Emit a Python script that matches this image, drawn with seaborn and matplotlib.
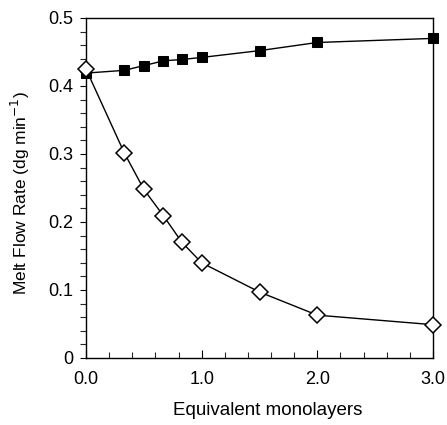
import matplotlib
matplotlib.use("Agg")
import matplotlib.pyplot as plt
import seaborn as sns
import pandas as pd
from matplotlib.ticker import MultipleLocator

sns.set_theme(style="white")
plt.rcParams['font.family'] = ['Liberation Sans', 'DejaVu Sans']

x_vals = [0.0, 0.33, 0.5, 0.67, 0.83, 1.0, 1.5, 2.0, 3.0]
filled_squares = [0.419, 0.423, 0.430, 0.437, 0.439, 0.442, 0.452, 0.464, 0.470]
open_diamonds = [0.425, 0.302, 0.248, 0.209, 0.170, 0.140, 0.097, 0.063, 0.049]
x_ticks = [0.0, 1.0, 2.0, 3.0]
x_tick_labels = ["0.0", "1.0", "2.0", "3.0"]
y_ticks = [0, 0.1, 0.2, 0.3, 0.4, 0.5]
y_tick_labels = ["0", "0.1", "0.2", "0.3", "0.4", "0.5"]

df_sq = pd.DataFrame({"x": x_vals, "y": filled_squares})
df_di = pd.DataFrame({"x": x_vals, "y": open_diamonds})

fig = plt.figure(figsize=(4.47, 4.25), dpi=100)
ax = fig.add_axes([86/447, 67/425, (433-86)/447, (358-18)/425])

sns.lineplot(data=df_sq, x="x", y="y", ax=ax, color="black", linewidth=1.0,
             marker="s", markersize=7.5, markerfacecolor="black",
             markeredgecolor="black", clip_on=False, zorder=3)
sns.lineplot(data=df_di, x="x", y="y", ax=ax, color="black", linewidth=1.0,
             marker="D", markersize=8, markerfacecolor="white",
             markeredgecolor="black", markeredgewidth=1.1, clip_on=False, zorder=4)

ax.set_xlim(0, 3.0)
ax.set_ylim(0, 0.5)
ax.set_xticks(x_ticks)
ax.set_xticklabels(x_tick_labels)
ax.set_yticks(y_ticks)
ax.set_yticklabels(y_tick_labels)
ax.xaxis.set_minor_locator(MultipleLocator(0.2))
ax.yaxis.set_minor_locator(MultipleLocator(0.02))

for s in ax.spines.values():
    s.set_color("black")
    s.set_linewidth(1.0)

ax.tick_params(axis="x", which="major", direction="in", length=6, width=0.8,
               labelsize=13, pad=9, colors="black", bottom=True)
ax.tick_params(axis="x", which="minor", direction="in", length=4, width=0.8, bottom=True)
ax.tick_params(axis="y", which="major", direction="out", length=4, width=0.8,
               labelsize=13, pad=5, colors="black", left=True)
ax.tick_params(axis="y", which="minor", direction="out", length=4, width=0.8, left=True)

ax.set_xlabel("Equivalent monolayers", fontsize=13.5, color="black")
ax.set_ylabel("Melt Flow Rate (dg min$^{-1}$)", fontsize=12.5, color="black")
ax.xaxis.set_label_coords((268-86)/347, -(402-358)/340)
ax.yaxis.set_label_coords((32-86)/347, (358-193)/340)

fig.savefig("out.png", dpi=100)
